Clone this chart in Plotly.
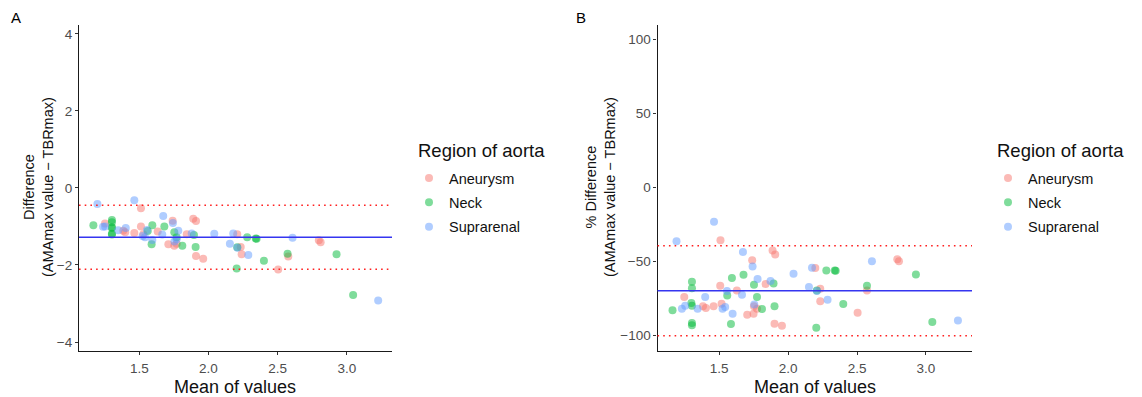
import plotly.graph_objects as go

# ---------------- Data ----------------
regions = ["Aneurysm", "Neck", "Suprarenal"]
colors = ["#F8766D", "#00BA38", "#619CFF"]

# Panel A: Difference (AMAmax value - TBRmax) vs mean of values
a_aneurysm_x = [1.512, 1.252, 1.384, 1.398, 1.464, 1.512, 1.529, 1.633, 1.741, 1.710, 1.753, 1.770,
                1.843, 1.890, 1.910, 1.910, 1.962, 2.208, 2.233, 2.240, 2.504, 2.577, 2.798, 2.811]
a_aneurysm_y = [-0.53, -0.92, -1.11, -1.15, -1.17, -1.00, -1.20, -1.13, -0.85, -1.46, -1.50, -1.45,
                -1.20, -0.80, -0.86, -1.77, -1.84, -1.20, -1.53, -1.72, -2.12, -1.78, -1.36, -1.41]
a_neck_x = [1.168, 1.302, 1.302, 1.302, 1.302, 1.302, 1.302, 1.561, 1.594, 1.589, 1.681, 1.753,
            1.770, 1.811, 1.895, 1.907, 2.204, 2.208, 2.280, 2.348, 2.342, 2.401, 2.572, 2.926, 3.046]
a_neck_y = [-0.97, -0.83, -0.89, -1.02, -1.04, -1.19, -1.21, -1.12, -0.97, -1.46, -1.00, -1.15,
            -1.28, -1.50, -1.22, -1.53, -2.09, -1.54, -1.28, -1.32, -1.31, -1.89, -1.71, -1.72, -2.78]
a_supra_x = [1.197, 1.464, 1.238, 1.253, 1.348, 1.402, 1.524, 1.541, 1.556, 1.594, 1.666, 1.673,
             1.743, 1.754, 1.770, 1.782, 1.879, 2.042, 2.155, 2.179, 2.209, 2.288, 2.608, 3.227]
a_supra_y = [-0.42, -0.32, -1.01, -1.00, -1.10, -1.04, -1.25, -1.28, -1.09, -1.35, -1.21, -0.73,
             -0.91, -1.39, -1.33, -1.11, -1.18, -1.19, -1.45, -1.18, -1.55, -1.74, -1.29, -2.92]
a_mean = -1.28
a_limits = [-0.45, -2.11]

# Panel B: % Difference vs mean of values
b_aneurysm_x = [1.509, 1.887, 1.906, 1.739, 1.507, 1.628, 1.836, 2.197, 1.246, 1.382, 1.403, 1.459,
                1.517, 1.752, 1.774, 1.703, 1.749, 1.901, 1.955, 2.233, 2.233, 2.504, 2.572, 2.792, 2.804]
b_aneurysm_y = [-35.8, -42.6, -45.3, -49.3, -66.4, -69.6, -65.3, -54.5, -74.1, -80.4, -81.5, -80.4,
                -78.6, -80.4, -82.0, -86.0, -85.4, -92.1, -93.5, -68.5, -77.0, -84.7, -69.6, -48.6, -50.0]
b_neck_x = [1.161, 1.302, 1.302, 1.298, 1.302, 1.302, 1.302, 1.592, 1.558, 1.585, 1.676, 1.752,
            1.774, 1.810, 1.894, 1.901, 2.204, 2.208, 2.277, 2.338, 2.345, 2.400, 2.572, 2.927, 3.046]
b_neck_y = [-83.1, -63.7, -68.2, -78.2, -80.0, -91.7, -93.2, -61.3, -73.0, -92.3, -59.0, -65.8,
            -74.1, -82.2, -64.9, -80.4, -94.8, -69.7, -56.1, -56.1, -56.4, -78.8, -66.4, -58.8, -91.0]
b_supra_x = [1.190, 1.462, 1.672, 1.742, 1.778, 1.872, 2.039, 2.173, 2.151, 2.209, 1.398, 1.229,
             1.253, 1.343, 1.524, 1.543, 1.556, 1.597, 1.665, 1.754, 2.286, 2.608, 3.232]
b_supra_y = [-36.5, -23.2, -43.7, -53.4, -61.9, -63.3, -58.3, -54.3, -67.3, -70.0, -74.1, -82.0,
             -80.0, -82.0, -82.0, -80.9, -70.0, -85.4, -72.5, -79.1, -75.9, -50.0, -89.9]
b_mean = -69.9
b_limits = [-39.5, -100.2]

x_ticks = [1.5, 2.0, 2.5, 3.0]
a_y_ticks = [-4, -2, 0, 2, 4]
b_y_ticks = [-100, -50, 0, 50, 100]

# ---------------- Figure ----------------
W, H = 1142, 397
FONT = "Liberation Sans, Arial, sans-serif"
fig = go.Figure()

panels = [
    ("x", "y", "legend", "a", [(a_aneurysm_x, a_aneurysm_y), (a_neck_x, a_neck_y), (a_supra_x, a_supra_y)]),
    ("x2", "y2", "legend2", "b", [(b_aneurysm_x, b_aneurysm_y), (b_neck_x, b_neck_y), (b_supra_x, b_supra_y)]),
]
for xa, ya, leg, tag, series in panels:
    for name, col, (xs, ys) in zip(regions, colors, series):
        fig.add_trace(go.Scatter(
            x=xs, y=ys, mode="markers", name=name, xaxis=xa, yaxis=ya, legend=leg,
            legendgroup=tag + name,
            marker=dict(color=col, size=8, opacity=0.5, line=dict(width=0)),
            hoverinfo="x+y+name"))

# mean and limits of agreement
for xa, ya, mean, lims in [("x", "y", a_mean, a_limits), ("x2", "y2", b_mean, b_limits)]:
    xd = xa + " domain"
    fig.add_shape(type="line", xref=xd, yref=ya, x0=0, x1=1, y0=mean, y1=mean,
                  line=dict(color="#3535f0", width=1.6))
    for lv in lims:
        fig.add_shape(type="line", xref=xd, yref=ya, x0=0, x1=1, y0=lv, y1=lv,
                      line=dict(color="#ff2020", width=1.6, dash="1.6px,4.1px"))

def px_x(p):
    return p / W

def px_y(p):
    return 1 - p / H

ydom = [px_y(350.5), px_y(25)]
axis_common = dict(showline=True, linecolor="#1a1a1a", linewidth=1.2, ticks="outside",
                   ticklen=3, tickwidth=1.1, tickcolor="#333333", showgrid=False, zeroline=False,
                   tickfont=dict(family=FONT, size=13.5, color="#4d4d4d"), mirror=False)

legend_common = dict(xanchor="left", yanchor="top", font=dict(family=FONT, size=14.5, color="#111"),
                     bgcolor="rgba(0,0,0,0)", itemsizing="trace", tracegroupgap=2.5)

fig.update_layout(
    width=W, height=H, margin=dict(l=0, r=0, t=0, b=0),
    paper_bgcolor="white", plot_bgcolor="white",
    font=dict(family=FONT),
    xaxis=dict(domain=[px_x(79), px_x(392)], range=[1.064, 3.327], tickvals=x_ticks,
               tickformat=".1f", anchor="y", ticklabelstandoff=2, **axis_common),
    yaxis=dict(domain=ydom, range=[-4.22, 4.23], tickvals=a_y_ticks, anchor="x", **axis_common),
    xaxis2=dict(domain=[px_x(657.5), px_x(972)], range=[1.052, 3.334], tickvals=x_ticks,
                tickformat=".1f", anchor="y2", ticklabelstandoff=2, **axis_common),
    yaxis2=dict(domain=ydom, range=[-110.2, 109.6], tickvals=b_y_ticks, anchor="x2", **axis_common),
    legend=dict(x=px_x(409), y=px_y(162), **legend_common),
    legend2=dict(x=px_x(988), y=px_y(162), **legend_common),
    showlegend=True,
)

ann = []
# panel labels
ann.append(dict(text="A", x=px_x(9), y=px_y(18), xref="paper", yref="paper", showarrow=False,
                font=dict(family=FONT, size=15, color="#000"), xanchor="left", yanchor="middle"))
ann.append(dict(text="B", x=px_x(574), y=px_y(18), xref="paper", yref="paper", showarrow=False,
                font=dict(family=FONT, size=15, color="#000"), xanchor="left", yanchor="middle"))
# legend titles
for lx in (416, 995):
    ann.append(dict(text="Region of aorta", x=px_x(lx), y=px_y(150), xref="paper", yref="paper",
                    showarrow=False, font=dict(family=FONT, size=18.5, color="#111"),
                    xanchor="left", yanchor="middle"))
# y titles
ann.append(dict(text="Difference<br>(AMAmax value − TBRmax)", x=px_x(38), y=px_y(187),
                xref="paper", yref="paper", showarrow=False, textangle=-90,
                font=dict(family=FONT, size=14.5, color="#111"), xanchor="center", yanchor="middle"))
ann.append(dict(text="% Difference<br>(AMAmax value − TBRmax)", x=px_x(600), y=px_y(187),
                xref="paper", yref="paper", showarrow=False, textangle=-90,
                font=dict(family=FONT, size=14.5, color="#111"), xanchor="center", yanchor="middle"))
# x titles
for cx in (235, 815):
    ann.append(dict(text="Mean of values", x=px_x(cx), y=px_y(387), xref="paper", yref="paper",
                    showarrow=False, font=dict(family=FONT, size=18, color="#111"),
                    xanchor="center", yanchor="middle", borderpad=0))
fig.update_layout(annotations=ann)

fig.write_html("out.html")
